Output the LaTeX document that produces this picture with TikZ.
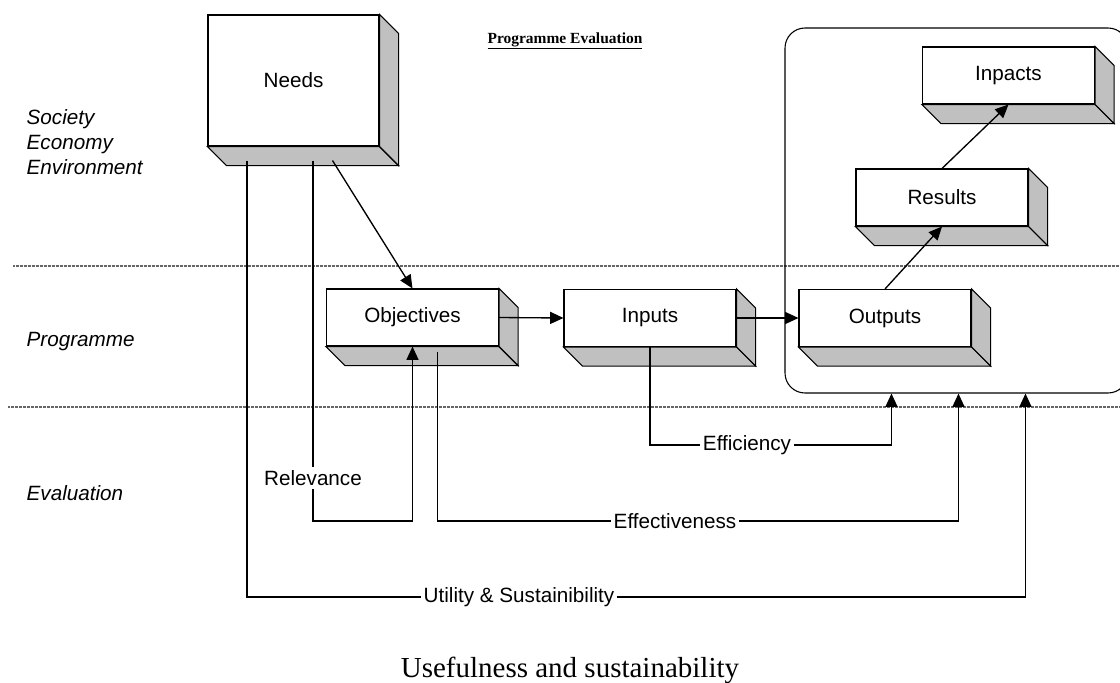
\documentclass[tikz,border=0pt]{standalone}
\usepackage{fontspec}
\setmainfont{Liberation Serif}
\setsansfont{Liberation Sans}
\usetikzlibrary{arrows.meta,calc}
\definecolor{facegrey}{RGB}{192,192,192}
% grey bottom and side faces behind a block
\newcommand{\slab}[1]{%
  \filldraw[face] (#1.south west) -- (#1.south east) -- ++(19,19) -- ($(#1.south west)+(19,19)$) -- cycle;
  \filldraw[face] (#1.north east) -- ++(19,19) -- ($(#1.south east)+(19,19)$) -- (#1.south east) -- cycle;}
\begin{document}
\begin{tikzpicture}[x=0.75pt,y=-0.75pt,
  face/.style={fill=facegrey,draw=black,line width=0.8pt},
  block/.style={draw,fill=white,line width=0.8pt,minimum width=129pt,minimum height=42.75pt,inner sep=0pt,font=\sffamily\fontsize{15.5}{18}\selectfont},
  link/.style={line width=1pt},
  arrow/.style={link,-{Triangle[length=10pt,width=9pt]}},
  lbl/.style={fill=white,inner sep=2pt,font=\sffamily\fontsize{15.5}{18}\selectfont},
  side/.style={anchor=west,align=left,font=\sffamily\itshape\fontsize{15.5}{18.75}\selectfont},
  level/.style={gray!80!black,line width=0.8pt,dash pattern=on 0.5pt off 0.5pt}]
\useasboundingbox (0,0) rectangle (1120,682);
\clip (0,0) rectangle (1120,682);
% levels
\draw[level] (13,266) -- (1120,266);
\draw[level] (8,407) -- (1120,407);
\node[side] (society) at (22,142) {Society\\Economy\\Environment};
\node[side] (programme) at (22,342) {Programme};
\node[side] (evaluation) at (22,493) {Evaluation};
\node[font=\bfseries\fontsize{11.6}{14}\selectfont,anchor=base] (title) at (565,43) {\underline{Programme Evaluation}};
% frame round the effects
\node[draw,rounded corners=15pt,line width=0.8pt,minimum width=257.25pt,minimum height=273.75pt,inner sep=0pt] (effects) at (956.5,210.5) {};
% blocks
\node[block,minimum width=128.25pt,minimum height=98.25pt] (needs) at (293.5,80.5) {Needs};
\node[block] (objectives) at (412.5,317.5) {Objectives};
\node[block] (inputs) at (650,318) {Inputs};
\node[block] (outputs) at (885,318) {Outputs};
\node[block] (results) at (942,197.5) {Results};
\node[block] (inpacts) at (1008.5,75.5) {Inpacts};
\slab{needs} \slab{objectives} \slab{inputs} \slab{outputs} \slab{results} \slab{inpacts}
% chain
\draw[arrow] ($(needs.south)+(39,14)$) -- (objectives.north);
\draw[arrow] (objectives.east) -- (inputs.west);
\draw[arrow] (inputs.east) -- (outputs.west);
\draw[arrow] (outputs.north) -- (results.south);
\draw[arrow] (results.north) -- (inpacts.south);
% criteria
\coordinate (effv) at (0,521);
\coordinate (in1) at ($(effects.south west)+(107,0)$);
\coordinate (in2) at ($(effects.south west)+(174,0)$);
\coordinate (in3) at ($(effects.south west)+(241,0)$);
\node[lbl] (relevance) at (313,478) {Relevance};
\node[lbl] (efficiency) at (747,445) {Efficiency};
\node[lbl] (effectiveness) at (675,521) {Effectiveness};
\node[lbl] (utility) at (519,597) {Utility \& Sustainibility};
\draw[link] ($(needs.south)+(19.5,14)$) -- (relevance);
\draw[arrow] (relevance) |- (objectives.south |- effv) -- (objectives.south);
\draw[link] (inputs.south) |- (efficiency);
\draw[arrow] (efficiency) -| (in1);
\draw[link] ($(objectives.south)+(25,5)$) |- (effectiveness);
\draw[arrow] (effectiveness) -| (in2);
\draw[link] ($(needs.south)+(-46.5,14)$) |- (utility);
\draw[arrow] (utility) -| (in3);
\node[font=\fontsize{21.75}{26}\selectfont,anchor=base] (caption) at (570,677) {Usefulness and sustainability};
\end{tikzpicture}
\end{document}
